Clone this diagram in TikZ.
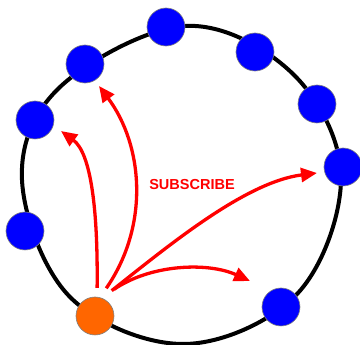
\documentclass[tikz,border=0pt]{standalone}
\usepackage{fontspec}
\setmainfont{Liberation Sans}
\usetikzlibrary{arrows.meta}
\definecolor{seed}{RGB}{255,102,0}
\begin{document}
\begin{tikzpicture}[x=1pt, y=-1pt,
  peer/.style={circle, fill=blue, draw=gray, line width=0.6pt, minimum size=38pt, inner sep=0pt},
  seedpeer/.style={peer, fill=seed},
  sub/.style={red, line width=3.3pt, -{Triangle[length=16pt, width=14pt]}}]
  \useasboundingbox (0,0) rectangle (360,345);

  % ring (drawn by hand, not a true circle)
  \draw[line width=4pt] plot[smooth cycle, tension=0.6] coordinates {
    (185,26) (292,73) (341,175) (298,293) (185,344) (70,297) (22,180) (60,87)};

  % peers on the ring
  \node[peer] (p1) at (166,27) {};
  \node[peer] (p2) at (255,52) {};
  \node[peer] (p3) at (317,104) {};
  \node[peer] (p4) at (343,167) {};
  \node[peer] (p5) at (281,307) {};
  \node[peer] (p7) at (25,231) {};
  \node[peer] (p8) at (35,120) {};
  \node[peer] (p9) at (85,64) {};
  \node[seedpeer] (me) at (95,316) {}; % the subscribing peer

  % arrow tips (free ends)
  \coordinate (t8) at (61,131);
  \coordinate (t9) at (99,86);
  \coordinate (t4) at (317,173);
  \coordinate (t5) at (250,281);

  % subscribe messages
  \draw[sub, shorten <=9pt] (me.84) .. controls (98,210) and (91,153) .. (t8);
  \draw[sub, shorten <=11pt] (me.75) .. controls (150,225) and (143,145) .. (t9);
  \draw[sub, shorten <=12pt] (me.68) .. controls (167,247) and (245,182) .. (t4);
  \draw[sub, shorten <=15pt] (me.70) .. controls (151,264) and (208,262) .. (t5);

  \node[text=red, font=\bfseries\fontsize{14.5}{14.5}\selectfont] (label) at (192,185) {SUBSCRIBE};
\end{tikzpicture}
\end{document}
